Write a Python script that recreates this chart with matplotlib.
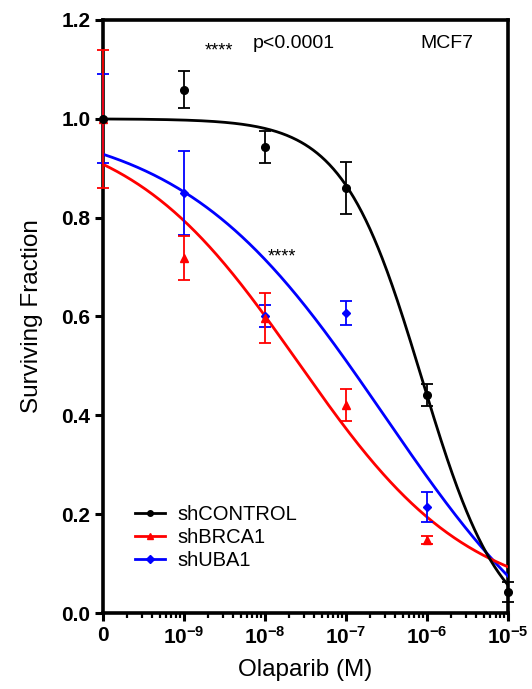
import numpy as np
import matplotlib
matplotlib.use('Agg')
import matplotlib.pyplot as plt
from matplotlib.lines import Line2D
from matplotlib.ticker import FixedLocator, LogLocator, NullFormatter

plt.rcParams['font.family'] = ['Liberation Sans', 'DejaVu Sans']
plt.rcParams['mathtext.fontset'] = 'custom'
plt.rcParams['mathtext.rm'] = 'Liberation Sans'
plt.rcParams['mathtext.bf'] = 'Liberation Sans:bold'
plt.rcParams['mathtext.default'] = 'bf'

# doses (M); the "0" dose is drawn at 1e-10 like Prism does
dose = [1e-10, 1e-9, 1e-8, 1e-7, 1e-6, 1e-5]
dose_labels = ['0', r'$10^{-9}$', r'$10^{-8}$', r'$10^{-7}$', r'$10^{-6}$', r'$10^{-5}$']

ctrl_mean = [1.0, 1.059, 0.943, 0.860, 0.441, 0.043]
ctrl_err = [0.0, 0.037, 0.033, 0.052, 0.022, 0.020]

brca_mean = [1.0, 0.718, 0.597, 0.421, 0.148]
brca_err = [0.14, 0.045, 0.050, 0.033, 0.008]

uba_mean = [1.0, 0.850, 0.601, 0.607, 0.215]
uba_err = [0.09, 0.085, 0.023, 0.025, 0.030]

# fitted dose-response parameters: top, bottom, logIC50, hill slope
ctrl_fit = [1.0, -0.05, -6.065, 0.89]
brca_fit = [1.0, 0.015, -7.593, 0.41]
uba_fit = [1.0, -0.2, -6.53, 0.345]

yticks = [0.0, 0.2, 0.4, 0.6, 0.8, 1.0, 1.2]


def hill(x, p):
    top, bottom, logic50, h = p
    return bottom + (top - bottom) / (1.0 + (x / 10.0 ** logic50) ** h)


fig = plt.figure(figsize=(5.32, 6.89), dpi=100)
ax = fig.add_axes([0.1936, 0.1103, 0.7614, 0.8607])

xs = np.logspace(-10, -5, 400)
series = [
    ('shCONTROL', ctrl_mean, ctrl_err, ctrl_fit, 'black', 'o', 5.5),
    ('shBRCA1', brca_mean, brca_err, brca_fit, 'red', '^', 5.5),
    ('shUBA1', uba_mean, uba_err, uba_fit, 'blue', 'D', 4.5),
]

handles = []
# draw blue and red first so black sits on top at the zero dose
for name, mean, err, fit, col, mk, ms in series[::-1]:
    n = len(mean)
    ax.plot(xs, hill(xs, fit), '-', color=col, linewidth=2.0, zorder=3)
    ax.errorbar(dose[:n], mean, yerr=err, fmt=mk, color=col, markersize=ms,
                elinewidth=1.3, capsize=4.0, capthick=1.3, clip_on=False, zorder=4)
for name, mean, err, fit, col, mk, ms in series:
    handles.append(Line2D([], [], color=col, marker=mk, markersize=4, linewidth=2.0, label=name))

ax.set_xscale('log')
ax.set_xlim(1e-10, 1e-5)
ax.set_ylim(0, 1.2)

ax.xaxis.set_major_locator(FixedLocator(dose))
ax.set_xticklabels(dose_labels)
ax.xaxis.set_minor_locator(LogLocator(base=10, subs=np.arange(2, 10)))
ax.xaxis.set_minor_formatter(NullFormatter())
ax.set_yticks(yticks)
ax.set_yticklabels(['%.1f' % v for v in yticks])

for sp in ax.spines.values():
    sp.set_linewidth(2.6)
ax.tick_params(which='major', direction='out', length=6, width=2.2,
               labelsize=15, pad=3)
ax.tick_params(which='minor', direction='out', length=3.5, width=1.6)
for lab in ax.get_yticklabels() + ax.get_xticklabels():
    lab.set_fontweight('bold')

ax.set_xlabel('Olaparib (M)', fontsize=17.5, labelpad=8)
ax.set_ylabel('Surviving Fraction', fontsize=17.5, labelpad=13)

# significance stars sit low, level with the middle of the text
ax.text(0.252, 0.948, '****', transform=ax.transAxes, fontsize=13,
        va='center', ha='left')
ax.text(0.37, 0.96, 'p<0.0001', transform=ax.transAxes, fontsize=14,
        va='center', ha='left')
ax.text(0.783, 0.96, 'MCF7', transform=ax.transAxes, fontsize=14,
        va='center', ha='left')
ax.text(0.407, 0.600, '****', transform=ax.transAxes, fontsize=13,
        va='center', ha='left')

ax.legend(handles=handles, loc='center left', bbox_to_anchor=(0.079, 0.128),
          frameon=False, fontsize=14.5, handlelength=1.5, handletextpad=0.6,
          labelspacing=0.2, borderpad=0, borderaxespad=0)

fig.savefig('out.png', dpi=100)
